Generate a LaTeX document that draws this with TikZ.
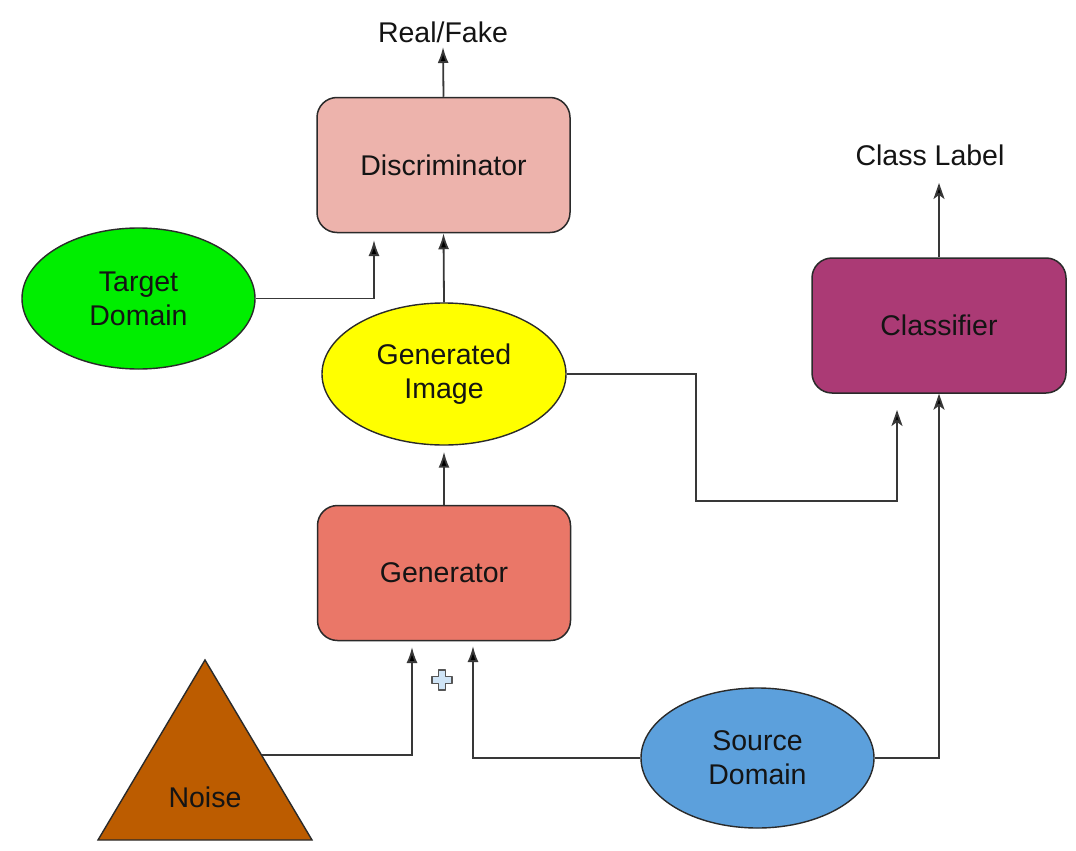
\documentclass[tikz,border=0pt]{standalone}
\usepackage{fontspec}
\setmainfont{Liberation Sans}
\usetikzlibrary{shapes.geometric,arrows.meta}
\definecolor{discC}{HTML}{EDB3AC}
\definecolor{genC}{HTML}{EA7768}
\definecolor{clfC}{HTML}{AB3A75}
\definecolor{tgtC}{HTML}{00EE00}
\definecolor{gimC}{HTML}{FFFF00}
\definecolor{srcC}{HTML}{5CA0DC}
\definecolor{noiC}{HTML}{BC5C00}
\definecolor{plusC}{HTML}{CFE4F6}
\definecolor{edgeC}{HTML}{2A2A2A}
\begin{document}
\begin{tikzpicture}[x=1pt,y=-1pt,
  every node/.style={font=\fontsize{28.5}{34}\selectfont, text=black!92},
  boxnode/.style={draw=edgeC, line width=1.5pt, rounded corners=20pt, minimum width=253pt, minimum height=135pt, inner sep=0pt},
  ellnode/.style={draw=edgeC, line width=1.4pt, ellipse, minimum width=233pt, minimum height=141pt, inner sep=0pt, align=center},
  conn/.style={draw=black!78, line width=1.8pt},
  arr/.style={conn, -{Latex[length=16pt,width=11pt,fill=black]}},
  sarr/.style={conn, -{Stealth[length=16pt,width=11pt,inset=4pt,fill=black]}}
]
\useasboundingbox (0,0) rectangle (1076,851);
\fill[white] (0,0) rectangle (1076,851);

% nodes
\node[boxnode, fill=discC] (disc) at (443.5,165) {Discriminator};
\node[boxnode, fill=genC] (gen) at (444,573) {Generator};
\node[boxnode, fill=clfC, minimum width=254pt] (clf) at (939,325.5) {Classifier};
\node[ellnode, fill=tgtC] (tgt) at (138.5,298.5) {Target\\Domain};
\node[ellnode, fill=gimC, minimum width=244pt, minimum height=142pt] (gim) at (444,374) {Generated\\Image};
\node[ellnode, fill=srcC, minimum height=140pt] (src) at (757.5,758) {Source\\Domain};
\node (rf) at (443,32) {Real/Fake};
\node (cl) at (930,155) {Class Label};

% noise triangle
\coordinate (nA) at (205,660);
\coordinate (nB) at (98,840);
\coordinate (nC) at (312,840);
\draw[draw=edgeC, line width=1.4pt, fill=noiC, line join=miter] (nA) -- (nB) -- (nC) -- cycle;
\node (noise) at (205,797) {Noise};
\coordinate (noiseout) at (261.5,755);

% connector coordinates
\coordinate (rftip) at (443,47);
\coordinate (cltip) at (939,183);
\coordinate (tdtip) at (374,240);
\coordinate (g1tip) at (412,647);
\coordinate (g2tip) at (473,646);
\coordinate (c1a) at (696,501);
\coordinate (c1tip) at (897,410);

% connectors
\draw[arr] (disc.north) -- (rftip);
\draw[sarr] (clf.north) -- (cltip);
\draw[arr] (tgt.east) -| (tdtip);
\draw[arr] (gim.north) -- (disc.south);
\draw[arr, shorten >=6pt] (gen.north) -- (gim.south);
\draw[sarr] (gim.east) -| (c1a) -| (c1tip);
\draw[sarr] (src.east) -| (clf.south);
\draw[arr] (src.west) -| (g2tip);
\draw[arr] (noiseout) -| (g1tip);

% plus sign
\draw[draw=edgeC!80, line width=1.3pt, fill=plusC, line join=round]
  (438.5,670) -- (445.5,670) -- (445.5,676.5) -- (452,676.5) -- (452,683.5) -- (445.5,683.5)
  -- (445.5,690) -- (438.5,690) -- (438.5,683.5) -- (432,683.5) -- (432,676.5) -- (438.5,676.5) -- cycle;
\end{tikzpicture}
\end{document}
